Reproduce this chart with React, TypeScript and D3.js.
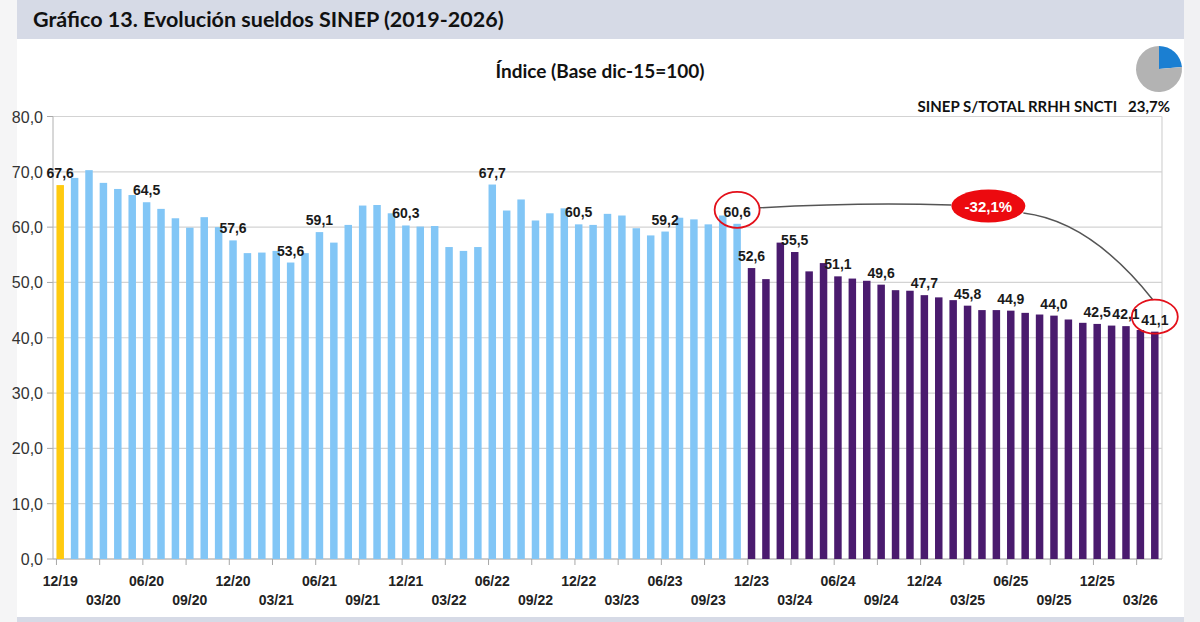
import * as d3 from 'd3';

// monthly periods, 12/19 .. 04/26
const periods = [
  '12/19',
  '01/20', '02/20', '03/20', '04/20', '05/20', '06/20', '07/20', '08/20', '09/20', '10/20', '11/20', '12/20',
  '01/21', '02/21', '03/21', '04/21', '05/21', '06/21', '07/21', '08/21', '09/21', '10/21', '11/21', '12/21',
  '01/22', '02/22', '03/22', '04/22', '05/22', '06/22', '07/22', '08/22', '09/22', '10/22', '11/22', '12/22',
  '01/23', '02/23', '03/23', '04/23', '05/23', '06/23', '07/23', '08/23', '09/23', '10/23', '11/23', '12/23',
  '01/24', '02/24', '03/24', '04/24', '05/24', '06/24', '07/24', '08/24', '09/24', '10/24', '11/24', '12/24',
  '01/25', '02/25', '03/25', '04/25', '05/25', '06/25', '07/25', '08/25', '09/25', '10/25', '11/25', '12/25',
  '01/26', '02/26', '03/26', '04/26',
];

// índice base dic-15 = 100
const indexValues = [
  67.6,
  68.9, 70.3, 68.0, 66.9, 65.8, 64.5, 63.3, 61.6, 59.9, 61.8, 60.0, 57.6,
  55.3, 55.4, 55.7, 53.6, 55.3, 59.1, 57.2, 60.4, 63.9, 64.0, 62.5, 60.3,
  60.1, 60.2, 56.4, 55.7, 56.4, 67.7, 63.0, 65.0, 61.2, 62.5, 63.4, 60.5,
  60.4, 62.4, 62.1, 59.8, 58.5, 59.2, 61.7, 61.4, 60.5, 62.1, 60.6, 52.6,
  50.6, 57.2, 55.5, 52.0, 53.5, 51.1, 50.7, 50.3, 49.6, 48.6, 48.5, 47.7,
  47.3, 46.8, 45.8, 45.0, 45.0, 44.9, 44.5, 44.2, 44.0, 43.3, 42.7, 42.5,
  42.2, 42.1, 41.4, 41.1,
];

// which bars carry a value label
const labeledPeriods = [
  '12/19', '06/20', '12/20', '04/21', '06/21', '12/21', '06/22', '12/22', '06/23', '11/23',
  '12/23', '03/24', '06/24', '09/24', '12/24', '03/25', '06/25', '09/25', '12/25', '02/26', '04/26',
];

const yTicks = [0, 10, 20, 30, 40, 50, 60, 70, 80];
const shareParts = [23.7, 76.3];

const basePeriod = '12/19';
const firstNewPeriod = '12/23';
const circled = ['11/23', '04/26'];
const changeLabel = '-32,1%';

const W = 1200;
const H = 622;
const left = 53;
const right = 1162;
const top = 116.5;
const bottom = 559;

const fmt = (v: number) => v.toFixed(1).replace('.', ',');

const App = () => {
  const x = d3.scaleBand<string>().domain(periods).range([left, right]).paddingInner(0.48).paddingOuter(0.24);
  const y = d3.scaleLinear().domain([0, 80]).range([bottom, top]);
  const bw = x.bandwidth();
  const cx = (p: string) => (x(p) ?? 0) + bw / 2;
  const valueOf = (p: string) => indexValues[periods.indexOf(p)];

  const firstNewIdx = periods.indexOf(firstNewPeriod);
  const barColor = (p: string, i: number) =>
    p === basePeriod ? '#FFCA0F' : i < firstNewIdx ? '#82C6F6' : '#4A1B6E';

  // annotation anchors
  const c1 = { x: cx(circled[0]), y: y(valueOf(circled[0])) - 14, rx: 22.5, ry: 18 };
  const c2 = { x: cx(circled[1]), y: y(valueOf(circled[1])) - 15, rx: 23, ry: 17 };
  const ell = { x: cx('05/25') - 8, y: y(63.8), rx: 37, ry: 16.5 };

  const path1 = `M${c1.x + c1.rx},${c1.y - 2} Q${(c1.x + ell.x) / 2},${ell.y - 4} ${ell.x - ell.rx},${ell.y - 1}`;
  const path2 = `M${ell.x + ell.rx - 2},${ell.y + 7} Q${ell.x + 102},${ell.y + 15} ${c2.x - 2},${c2.y - c2.ry}`;

  const pie = d3.pie<number>().sort(null).value(d => d);
  const arc = d3.arc<d3.PieArcDatum<number>>().innerRadius(0).outerRadius(23);
  const slices = pie(shareParts);

  const tickPeriods = periods.filter((_, i) => i % 3 === 0);

  return (
    <svg width={W} height={H} style={{ position: 'absolute', left: 0, top: 0, background: '#fff' }}>
      {/* frame */}
      <rect x={0} y={0} width={17} height={H} fill="#f5f5f6" />
      <rect x={1184} y={0} width={16} height={H} fill="#f1f1f3" />
      <rect x={17} y={0} width={1167} height={39} fill="#d6dae6" />
      <rect x={17} y={617} width={1167} height={5} fill="#d6dae6" />
      <text x={33} y={27} fontFamily="Lato" fontWeight="bold" fontSize={21.5} fill="#111">
        Gráfico 13. Evolución sueldos SINEP (2019-2026)
      </text>
      <text x={600} y={78} textAnchor="middle" fontFamily="Lato" fontWeight="bold" fontSize={19} fill="#111">
        Índice (Base dic-15=100)
      </text>

      {/* share pie */}
      <g transform="translate(1159,69)">
        {slices.map((s, i) => (
          <path key={i} d={arc(s) ?? ''} fill={i === 0 ? '#1B7FD2' : '#B3B3B3'} />
        ))}
      </g>
      <text x={1170} y={112} textAnchor="end" fontFamily="Lato" fontWeight="bold" fontSize={15} fill="#111">
        SINEP S/TOTAL RRHH SNCTI{'\u00a0\u00a0\u00a0'}{fmt(shareParts[0])}%
      </text>

      {/* grid + axes */}
      {yTicks.map(t => (
        <g key={t}>
          <line x1={left} x2={right} y1={y(t)} y2={y(t)} stroke="#d3d3d3" strokeWidth={1.2} />
          <line x1={left - 6} x2={left} y1={y(t)} y2={y(t)} stroke="#a8a8a8" />
          <text x={43} y={y(t) + 6} textAnchor="end" fontFamily="Liberation Sans" fontSize={16} fill="#333">
            {fmt(t)}
          </text>
        </g>
      ))}
      <line x1={right} x2={right} y1={top} y2={bottom} stroke="#d3d3d3" strokeWidth={1.2} />
      <line x1={left} x2={left} y1={top} y2={bottom} stroke="#b0b0b0" />
      <line x1={left} x2={right} y1={bottom} y2={bottom} stroke="#b0b0b0" />

      {tickPeriods.map((p, k) => (
        <g key={p}>
          <line x1={x(p) ?? 0} x2={x(p) ?? 0} y1={bottom} y2={bottom + 6} stroke="#a8a8a8" />
          <text
            x={cx(p)}
            y={k % 2 === 0 ? 586 : 605}
            textAnchor="middle"
            fontFamily="Liberation Sans"
            fontWeight="bold"
            fontSize={14}
            fill="#222"
          >
            {p}
          </text>
        </g>
      ))}

      {/* bars */}
      {periods.map((p, i) => (
        <rect key={p} x={x(p)} y={y(indexValues[i])} width={bw} height={bottom - y(indexValues[i])} fill={barColor(p, i)} />
      ))}

      {/* value labels */}
      {labeledPeriods.map(p => (
        <text
          key={p}
          x={cx(p)}
          y={y(valueOf(p)) - 7}
          textAnchor="middle"
          fontFamily="Liberation Sans"
          fontWeight="bold"
          fontSize={14}
          fill="#1a1a1a"
        >
          {fmt(valueOf(p))}
        </text>
      ))}

      {/* annotation */}
      <path d={path1} fill="none" stroke="#555" strokeWidth={1.5} />
      <path d={path2} fill="none" stroke="#555" strokeWidth={1.5} />
      <ellipse cx={c1.x} cy={c1.y} rx={c1.rx} ry={c1.ry} fill="none" stroke="#e3101a" strokeWidth={1.8} />
      <ellipse cx={c2.x} cy={c2.y} rx={c2.rx} ry={c2.ry} fill="none" stroke="#e3101a" strokeWidth={1.8} />
      <ellipse cx={ell.x} cy={ell.y} rx={ell.rx} ry={ell.ry} fill="#ec0a0f" />
      <text x={ell.x} y={ell.y + 5.5} textAnchor="middle" fontFamily="Liberation Sans" fontWeight="bold" fontSize={15} fill="#fff">
        {changeLabel}
      </text>
    </svg>
  );
};

export default App;
